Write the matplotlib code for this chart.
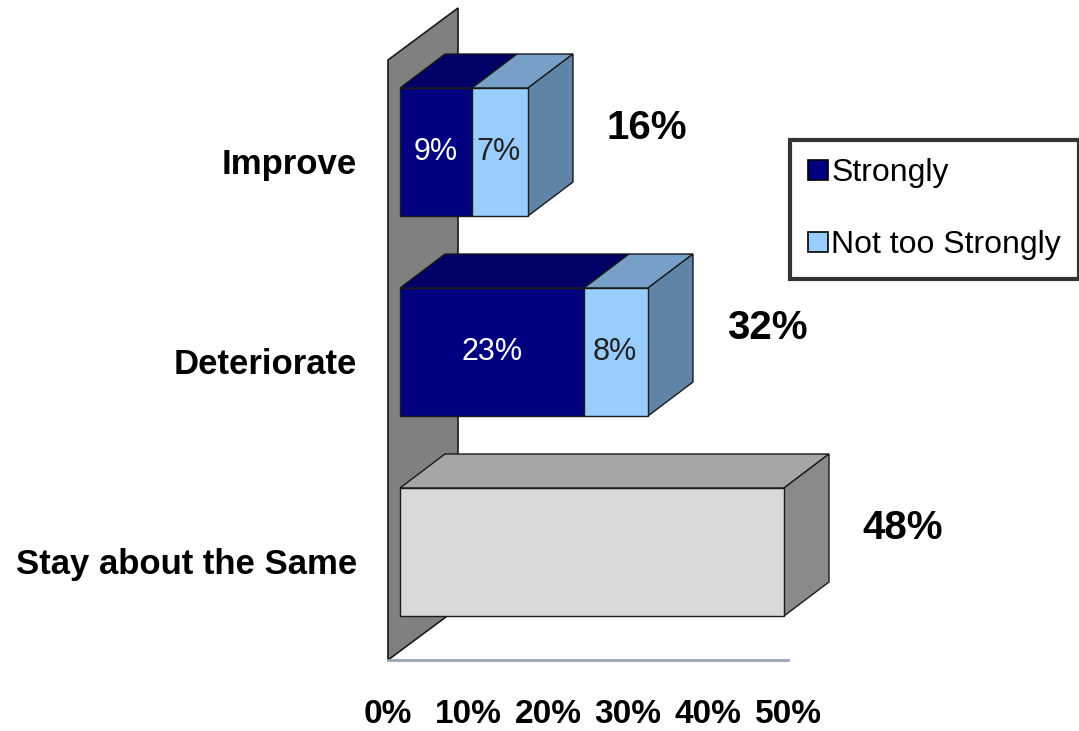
import matplotlib
matplotlib.use("Agg")
import matplotlib.pyplot as plt
from matplotlib.patches import Polygon, Patch
import matplotlib.transforms as mtransforms

# ---- data ----
categories = ["Stay about the Same", "Deteriorate", "Improve"]
strongly = [None, 23, 9]
not_too_strongly = [None, 8, 7]
same_value = [48, None, None]
totals = ["48%", "32%", "16%"]
tick_values = [0, 10, 20, 30, 40, 50]
tick_labels = ["0%", "10%", "20%", "30%", "40%", "50%"]
legend_labels = ["Strongly", "Not too Strongly"]

# ---- style ----
FONT = "Liberation Sans"
navy_front, navy_top = "#000080", "#000066"
lb_front, lb_top, lb_side = "#99CCFF", "#76A0C8", "#6084A8"
gr_front, gr_top, gr_side = "#D9D9D9", "#A6A6A6", "#8A8A8A"
wall_col = "#808080"
edge = "#1a1a1a"

W, H = 1079, 731
fig = plt.figure(figsize=(W / 100, H / 100), dpi=100)
ax = fig.add_axes([388 / W, (H - 660) / H, 400 / W, 660 / H])
ax.set_xlim(0, 50)
ax.set_ylim(-0.54, 2.76)

x0 = 1.5          # gap between wall and bar front
half = 0.32       # half bar thickness
ddx, ddy = 5.625, 0.17   # bar depth
wdx, wdy = 8.75, 0.26    # wall depth


def poly(pts, fc, z, lw=1.0):
    p = Polygon(pts, closed=True, facecolor=fc, edgecolor=edge, linewidth=lw,
                clip_on=False, zorder=z, joinstyle="miter")
    ax.add_patch(p)


# wall
wall_bottom, wall_top = -0.54, 2.46
poly([(0, wall_bottom), (wdx, wall_bottom + wdy), (wdx, wall_top + wdy), (0, wall_top)],
     wall_col, 1, lw=1.2)


def box(y, segs, z):
    """segs: list of (width, front, top, side)"""
    b, t = y - half, y + half
    x = x0
    for i, (w, fc, tc, sc) in enumerate(segs):
        poly([(x, t), (x + w, t), (x + w + ddx, t + ddy), (x + ddx, t + ddy)], tc, z)
        poly([(x, b), (x + w, b), (x + w, t), (x, t)], fc, z + 0.2)
        x += w
    sc = segs[-1][3]
    poly([(x, b), (x + ddx, b + ddy), (x + ddx, t + ddy), (x, t)], sc, z + 0.1)
    return x


for i, cat in enumerate(categories):
    if same_value[i] is not None:
        end = box(i, [(same_value[i], gr_front, gr_top, gr_side)], 3)
    else:
        end = box(i, [(strongly[i], navy_front, navy_top, None),
                      (not_too_strongly[i], lb_front, lb_top, lb_side)], 3)
        ax.text(x0 + strongly[i] / 2, i, f"{strongly[i]}%", color="white",
                ha="center", va="center", fontsize=22, family=FONT, zorder=10)
        ax.text(x0 + strongly[i] + not_too_strongly[i] / 2 - 0.2, i, f"{not_too_strongly[i]}%",
                color="#222222", ha="center", va="center", fontsize=22, family=FONT, zorder=10)
    ax.text(end + ddx + 4.2, i + 0.12, totals[i], ha="left", va="center",
            fontsize=29, fontweight="bold", family=FONT, clip_on=False, zorder=10)
    tr = mtransforms.offset_copy(ax.get_yaxis_transform(), fig=fig, x=-31, y=0, units="dots")
    ax.text(0, i - 0.11, cat, transform=tr, ha="right", va="baseline",
            fontsize=25, fontweight="bold", family=FONT, clip_on=False)

# axes styling
for s in ["top", "right", "left"]:
    ax.spines[s].set_visible(False)
ax.spines["bottom"].set_color("#9aa3b8")
ax.spines["bottom"].set_linewidth(2)
ax.set_yticks([])
ax.set_xticks(tick_values)
ax.set_xticklabels(tick_labels, fontsize=24, fontweight="bold", family=FONT)
ax.tick_params(axis="x", length=0, pad=28)
ax.patch.set_alpha(0)

# legend
handles = [Patch(facecolor=navy_front, edgecolor="black", linewidth=1.2),
           Patch(facecolor=lb_front, edgecolor="black", linewidth=1.2)]
leg = fig.legend(handles, legend_labels, loc="upper left",
                 bbox_to_anchor=(790 / W, 1 - 140 / H),
                 prop={"family": FONT, "size": 23},
                 frameon=True, fancybox=False, borderpad=0.57,
                 handlelength=0.62, handleheight=0.56, handletextpad=0.1,
                 labelspacing=1.32, borderaxespad=0)
leg.get_frame().set_edgecolor("black")
leg.get_frame().set_linewidth(3)

fig.savefig("out.png", dpi=100)
